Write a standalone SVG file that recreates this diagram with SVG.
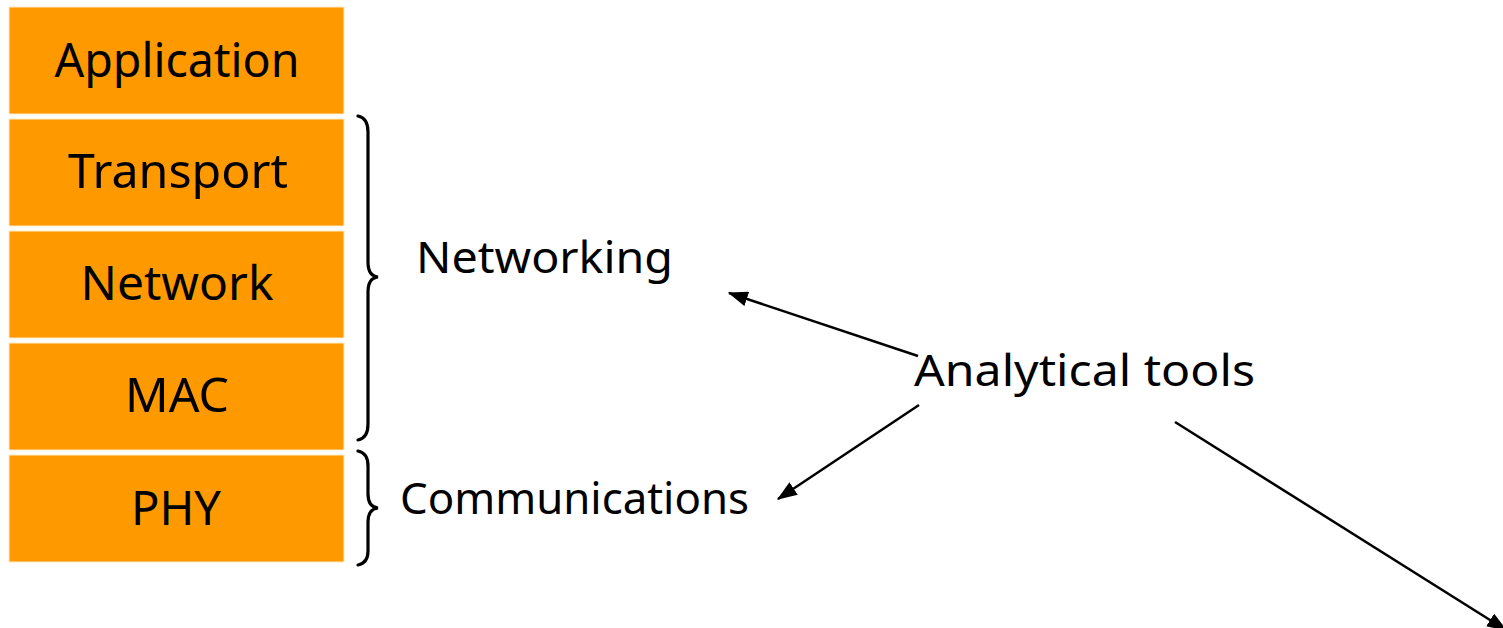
<svg xmlns="http://www.w3.org/2000/svg" width="1503" height="628" viewBox="0 0 1503 628">
  <defs>
    <style>
      .layer { fill: #FF9900; stroke: #FFE9C8; stroke-width: 1; }
      .t { font-family: "Noto Sans", "DejaVu Sans", sans-serif; fill: #000; }
      .lt { font-size: 48px; text-anchor: middle; }
      .lbl { font-size: 44px; }
      .conn { stroke: #000; stroke-width: 2.5; fill: none; }
      .brace { stroke: #000; stroke-width: 3.2; fill: none; stroke-linecap: round; }
    </style>
    <marker id="ah" markerWidth="8" markerHeight="6" refX="7.5" refY="3" orient="auto" markerUnits="strokeWidth">
      <path d="M0,0 L8,3 L0,6 Z" fill="#000"/>
    </marker>
  </defs>
  <rect width="1503" height="628" fill="#fff"/>

  <g id="application">
    <rect class="layer" x="9" y="7" width="335" height="107"/>
    <text class="t lt" x="177" y="77" textLength="245" lengthAdjust="spacingAndGlyphs">Application</text>
  </g>
  <g id="transport">
    <rect class="layer" x="9" y="119" width="335" height="107"/>
    <text class="t lt" x="178" y="188" textLength="220" lengthAdjust="spacingAndGlyphs">Transport</text>
  </g>
  <g id="network">
    <rect class="layer" x="9" y="231" width="335" height="107"/>
    <text class="t lt" x="177" y="300" textLength="193" lengthAdjust="spacingAndGlyphs">Network</text>
  </g>
  <g id="mac">
    <rect class="layer" x="9" y="343" width="335" height="107"/>
    <text class="t lt" x="177" y="412" textLength="104" lengthAdjust="spacingAndGlyphs">MAC</text>
  </g>
  <g id="phy">
    <rect class="layer" x="9" y="455" width="335" height="107"/>
    <text class="t lt" x="176" y="525" textLength="90" lengthAdjust="spacingAndGlyphs">PHY</text>
  </g>

  <g id="brace-networking">
    <path class="brace" d="M358,116 Q368,118 368,132 L368,262 Q368,276 378,277 Q368,278 368,292 L368,424 Q368,438 358,440"/>
  </g>
  <g id="brace-communications">
    <path class="brace" d="M358,451 Q368,453 368,466 L368,494 Q368,507 378,508 Q368,509 368,522 L368,551 Q368,563 358,565"/>
  </g>

  <g id="networking">
    <text class="t lbl" x="416" y="273" textLength="257" lengthAdjust="spacingAndGlyphs">Networking</text>
  </g>
  <g id="communications">
    <text class="t lbl" x="400" y="514" textLength="349" lengthAdjust="spacingAndGlyphs">Communications</text>
  </g>
  <g id="analytical-tools">
    <text class="t lbl" x="914" y="386" textLength="341" lengthAdjust="spacingAndGlyphs">Analytical tools</text>
  </g>

  <g id="connectors">
    <line class="conn" x1="918" y1="356" x2="729" y2="293" marker-end="url(#ah)"/>
    <line class="conn" x1="919" y1="405" x2="778" y2="499" marker-end="url(#ah)"/>
    <line class="conn" x1="1175" y1="422" x2="1506" y2="630" marker-end="url(#ah)"/>
  </g>
</svg>
